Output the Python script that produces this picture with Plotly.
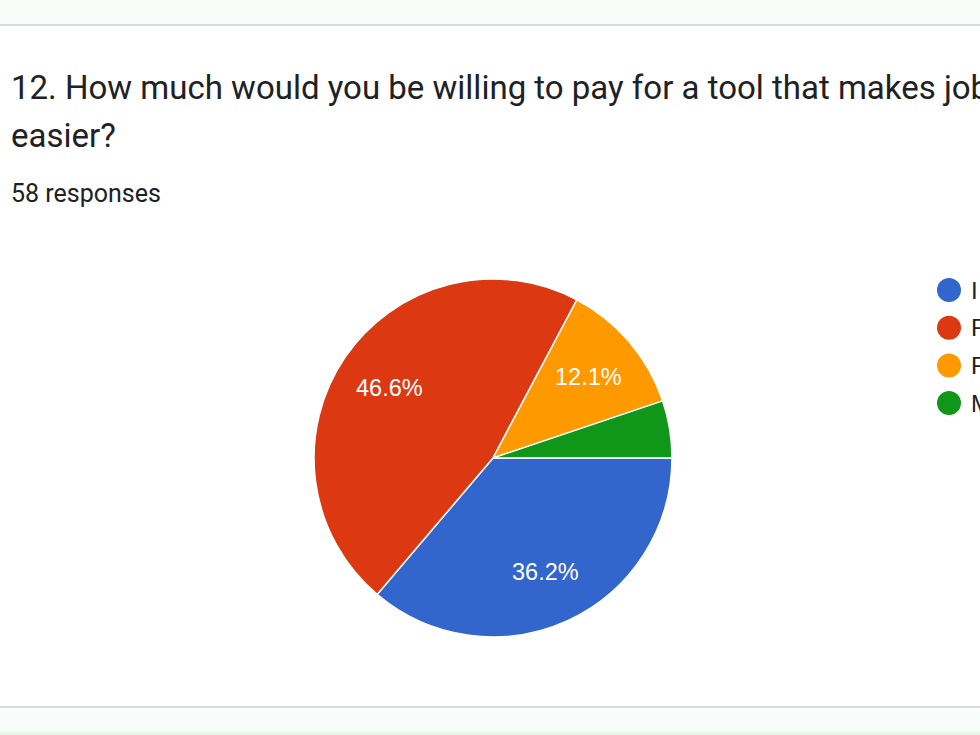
import math
import plotly.graph_objects as go

# ---- data ----
categories = [
    "I wouldn't pay for it",
    "Free only",
    "From $1 to $10 per month",
    "More than $10 per month",
]
counts = [21, 27, 7, 3]
colors = ["#3366cc", "#dc3912", "#ff9900", "#109618"]
title_lines = [
    "12. How much would you be willing to pay for a tool that makes job",
    "easier?",
]
subtitle = "58 responses"

W, H = 980, 735
FONT = "Roboto, Arial, sans-serif"
LABEL_FONT = "Liberation Sans, Arial, sans-serif"

# pie geometry (pixels)
CX, CY, R = 493, 458, 179
ROTATION = 90  # degrees, start angle measured clockwise from 12 o'clock

total = sum(counts)

fig = go.Figure()
fig.add_trace(go.Pie(
    labels=categories,
    values=counts,
    textinfo="none",
    marker=dict(colors=colors, line=dict(color="white", width=1.5)),
    sort=False,
    direction="clockwise",
    rotation=ROTATION,
    showlegend=False,
    hoverinfo="label+percent",
    domain=dict(x=[(CX - R) / W, (CX + R) / W],
                y=[(H - CY - R) / H, (H - CY + R) / H]),
))

shapes = [
    # top band + divider
    dict(type="rect", xref="paper", yref="paper", x0=0, x1=1, y0=1 - 24 / H, y1=1,
         fillcolor="#f8fdf9", line_width=0, layer="below"),
    dict(type="rect", xref="paper", yref="paper", x0=0, x1=1, y0=1 - 26 / H, y1=1 - 24 / H,
         fillcolor="#dadce0", line_width=0, layer="below"),
    # bottom divider + band
    dict(type="rect", xref="paper", yref="paper", x0=0, x1=1, y0=1 - 708 / H, y1=1 - 706 / H,
         fillcolor="#dadce0", line_width=0, layer="below"),
    dict(type="rect", xref="paper", yref="paper", x0=0, x1=1, y0=1 - 732 / H, y1=1 - 708 / H,
         fillcolor="#f7fdf8", line_width=0, layer="below"),
    dict(type="rect", xref="paper", yref="paper", x0=0, x1=1, y0=0, y1=1 - 732 / H,
         fillcolor="#e6f7ea", line_width=0, layer="below"),
]

annotations = []
# slice percentage labels, placed along each slice's mid-angle
cum = 0
for c in counts:
    frac = c / total
    mid = math.radians(ROTATION + 360 * (cum + c / 2) / total)
    cum += c
    if frac < 0.06:
        continue
    px = CX + 0.70 * R * math.sin(mid)
    py = CY - 0.70 * R * math.cos(mid)
    annotations.append(dict(
        text=f"{frac * 100:.1f}%", xref="paper", yref="paper",
        x=px / W, y=1 - py / H, xanchor="center", yanchor="middle",
        showarrow=False, font=dict(family=LABEL_FONT, size=23.5, color="white"),
    ))

# title
for i, line in enumerate(title_lines):
    annotations.append(dict(
        text=line, xref="paper", yref="paper", x=9 / W, y=1 - (101 + 48 * i) / H,
        xanchor="left", yanchor="bottom", showarrow=False, yshift=-8,
        font=dict(family=FONT, size=33, color="#202124"),
    ))
annotations.append(dict(
    text=subtitle, xref="paper", yref="paper", x=9 / W, y=1 - 193 / H,
    xanchor="left", yanchor="middle", showarrow=False,
    font=dict(family=FONT, size=25, color="#202124"),
))

# legend (circle markers + labels)
leg_x, leg_y0, leg_dy, rad = 949, 290, 37.7, 12
for i, (lab, col) in enumerate(zip(categories, colors)):
    cy = leg_y0 + leg_dy * i
    shapes.append(dict(
        type="circle", xref="paper", yref="paper",
        x0=(leg_x - rad) / W, x1=(leg_x + rad) / W,
        y0=1 - (cy + rad) / H, y1=1 - (cy - rad) / H,
        fillcolor=col, line_width=0,
    ))
    annotations.append(dict(
        text=lab, xref="paper", yref="paper", x=969 / W, y=1 - cy / H,
        xanchor="left", yanchor="middle", showarrow=False,
        font=dict(family=LABEL_FONT, size=24, color="#222222"),
    ))

fig.update_layout(
    width=W, height=H,
    margin=dict(l=0, r=0, t=0, b=0),
    paper_bgcolor="white",
    plot_bgcolor="white",
    shapes=shapes,
    annotations=annotations,
)

fig.write_html("out.html")
